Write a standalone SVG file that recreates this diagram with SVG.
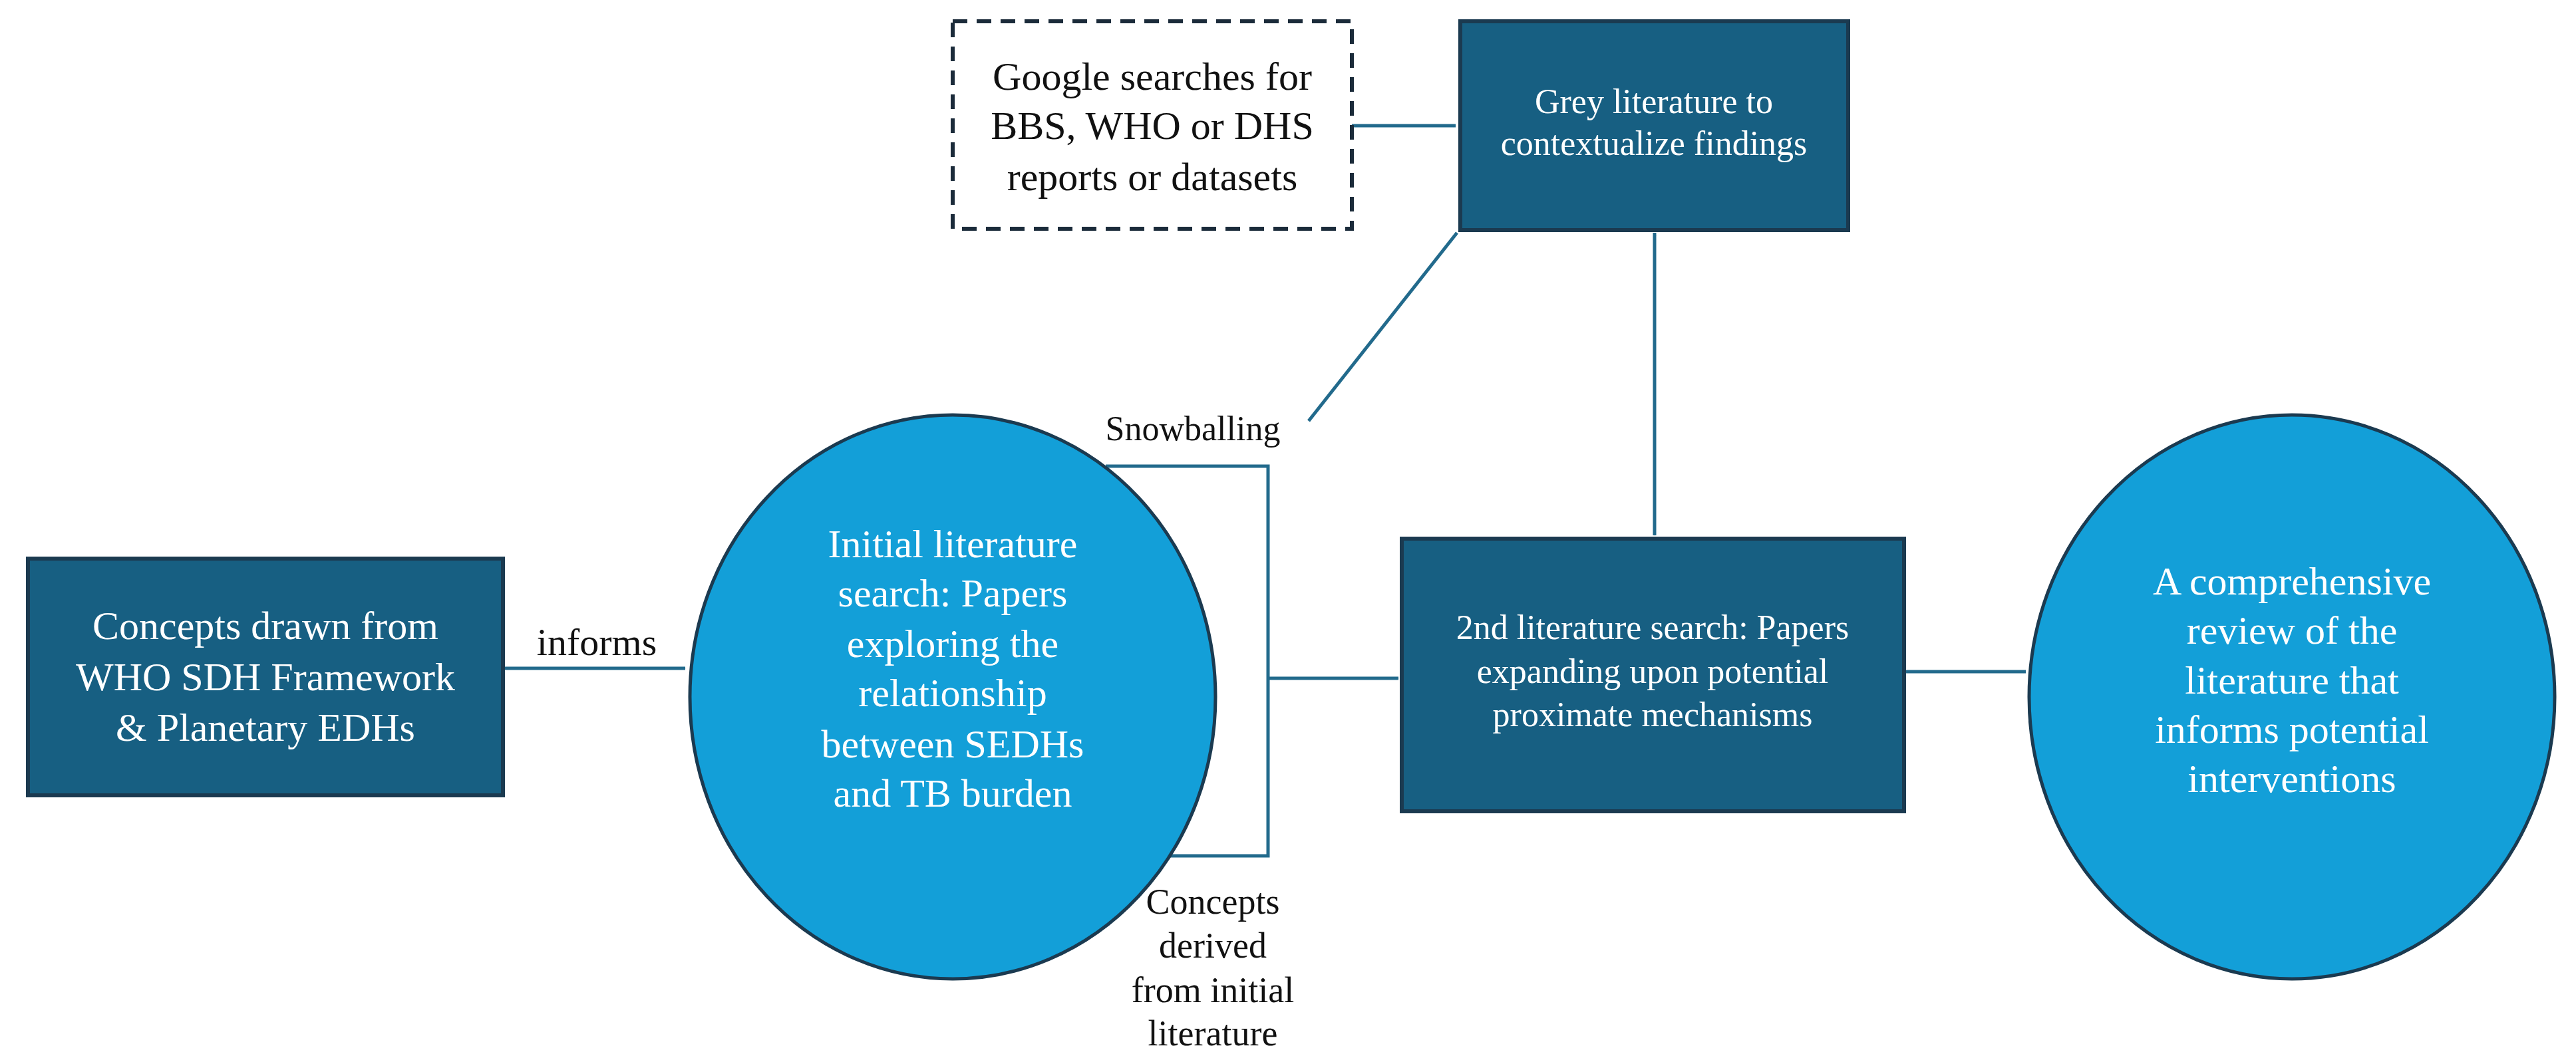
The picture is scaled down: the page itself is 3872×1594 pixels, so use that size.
<svg xmlns="http://www.w3.org/2000/svg" width="3872" height="1594" viewBox="0 0 3872 1594">
<defs>
<style>
.box{fill:#175f82;stroke:#1b3a50;stroke-width:6}
.circ{fill:#139fd8;stroke:#1b3a50;stroke-width:5}
.dash{fill:#fff;stroke:#1b2b3a;stroke-width:6;stroke-dasharray:22 14}
.wt{font-family:"Liberation Serif",serif;fill:#fff;text-anchor:middle}
.bt{font-family:"Liberation Serif",serif;fill:#111;text-anchor:middle}
.ln{fill:none;stroke:#226a8c;stroke-width:5}
</style>
<marker id="ah" viewBox="0 0 10 10" refX="9" refY="5" markerWidth="5" markerHeight="5" orient="auto-start-reverse" markerUnits="userSpaceOnUse"><path d="M0,0 L10,5 L0,10 z" fill="#226a8c"/></marker>
</defs>
<g id="connectors">
<line class="ln" x1="756" y1="1005" x2="1030" y2="1005" marker-end="url(#ah)" style="--m:0"/>
<polyline class="ln" points="1662,701 1906,701 1906,1287 1711,1287"/>
<line class="ln" x1="1906" y1="1020" x2="2102" y2="1020" marker-end="url(#ah)"/>
<line class="ln" x1="2862" y1="1010" x2="3045" y2="1010" marker-end="url(#ah)"/>
<line class="ln" x1="2032" y1="189" x2="2188" y2="189" marker-end="url(#ah)"/>
<line class="ln" x1="1967" y1="633" x2="2190" y2="350" marker-end="url(#ah)"/>
<line class="ln" x1="2487" y1="350" x2="2487" y2="805" marker-start="url(#ah)" marker-end="url(#ah)"/>
<text class="bt" x="897" y="985" font-size="58">informs</text>
<text class="bt" x="1793" y="662" font-size="52">Snowballing</text>
<text class="bt" font-size="54"><tspan x="1823" y="1374">Concepts</tspan><tspan x="1823" y="1440">derived</tspan><tspan x="1823" y="1507">from initial</tspan><tspan x="1823" y="1572">literature</tspan></text>
</g>
<g id="n1">
<rect class="box" x="42" y="840" width="714" height="356"/>
<text class="wt" font-size="60"><tspan x="399" y="961">Concepts drawn from</tspan><tspan x="399" y="1038">WHO SDH Framework</tspan><tspan x="399" y="1114">&amp; Planetary EDHs</tspan></text>
</g>
<g id="n2">
<ellipse class="circ" cx="1432" cy="1048" rx="395" ry="424"/>
<text class="wt" font-size="60"><tspan x="1432" y="838">Initial literature</tspan><tspan x="1432" y="912">search: Papers</tspan><tspan x="1432" y="988">exploring the</tspan><tspan x="1432" y="1062">relationship</tspan><tspan x="1432" y="1139">between SEDHs</tspan><tspan x="1432" y="1213">and TB burden</tspan></text>
</g>
<g id="n3">
<rect class="dash" x="1432" y="32" width="600" height="312"/>
<text class="bt" font-size="60"><tspan x="1732" y="135">Google searches for</tspan><tspan x="1732" y="209">BBS, WHO or DHS</tspan><tspan x="1732" y="286">reports or datasets</tspan></text>
</g>
<g id="n4">
<rect class="box" x="2195" y="32" width="583" height="314"/>
<text class="wt" font-size="52"><tspan x="2486" y="170">Grey literature to</tspan><tspan x="2486" y="233">contextualize findings</tspan></text>
</g>
<g id="n5">
<rect class="box" x="2107" y="810" width="755" height="410"/>
<text class="wt" font-size="52"><tspan x="2484" y="961">2nd literature search: Papers</tspan><tspan x="2484" y="1027">expanding upon potential</tspan><tspan x="2484" y="1092">proximate mechanisms</tspan></text>
</g>
<g id="n6">
<ellipse class="circ" cx="3445" cy="1048" rx="395" ry="424"/>
<text class="wt" font-size="60"><tspan x="3445" y="894">A comprehensive</tspan><tspan x="3445" y="968">review of the</tspan><tspan x="3445" y="1043">literature that</tspan><tspan x="3445" y="1117">informs potential</tspan><tspan x="3445" y="1191">interventions</tspan></text>
</g>
</svg>
